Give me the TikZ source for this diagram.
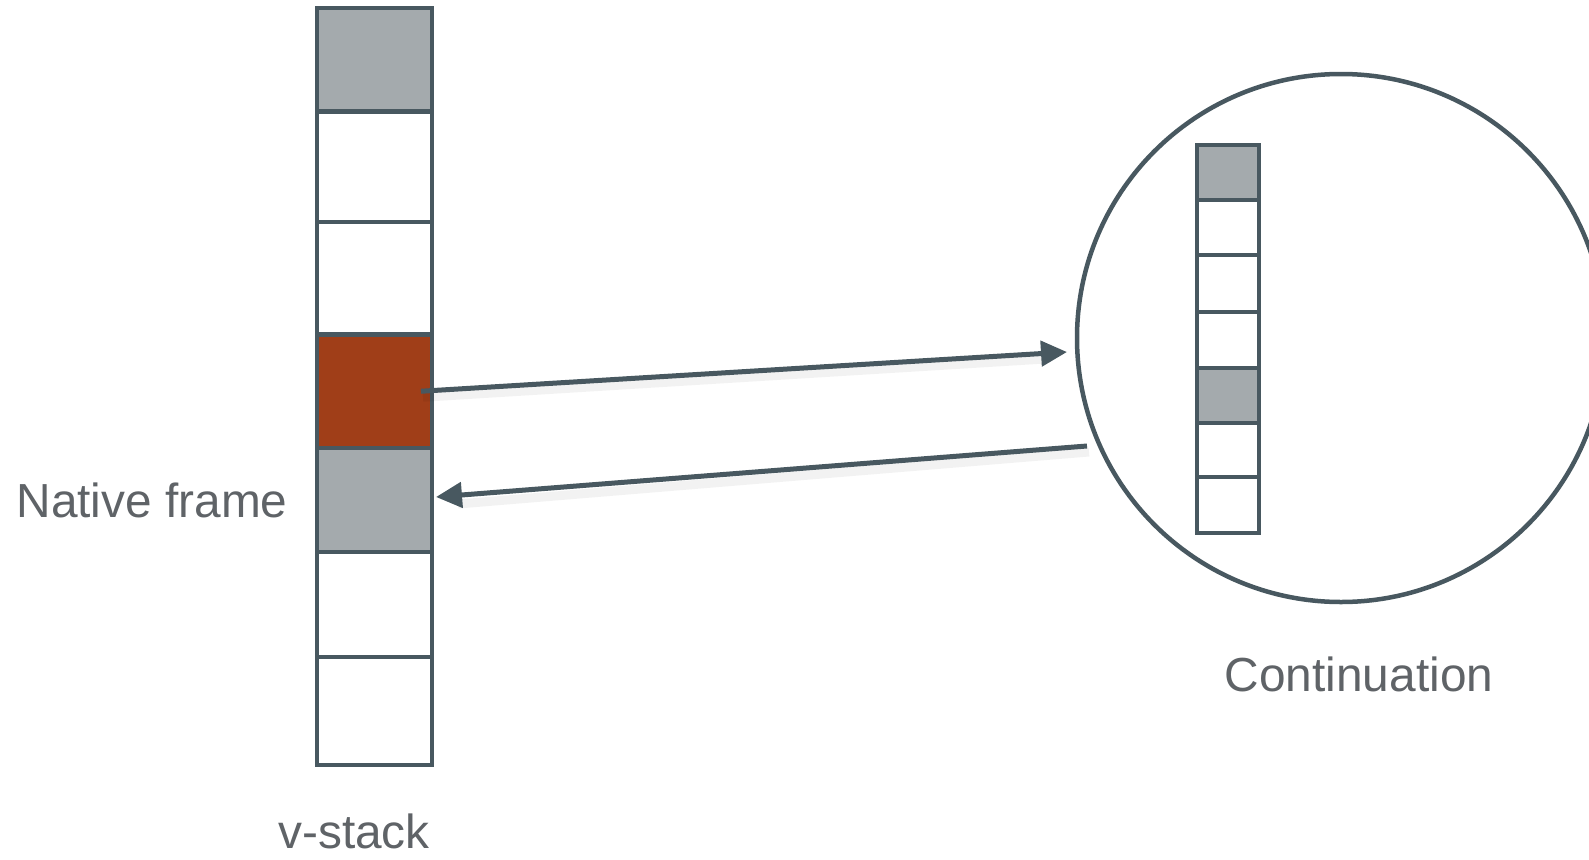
\documentclass[tikz,border=0pt]{standalone}
\usepackage{fontspec}
\setmainfont{Liberation Sans}
\usetikzlibrary{arrows.meta,calc}
\definecolor{ink}{RGB}{72,88,96}
\definecolor{slot}{RGB}{164,170,173}
\definecolor{rust}{RGB}{160,62,24}
\definecolor{txtgray}{RGB}{95,99,103}
\tikzset{
  cell/.style={draw=ink, line width=4.5pt, anchor=north west, inner sep=0pt, outer sep=0pt},
  bigcell/.style={cell, minimum width=115pt},
  smallcell/.style={cell, line width=4pt, minimum width=62pt},
  link/.style={draw=ink, line width=5pt, -{Triangle[length=26pt,width=25pt]}},
  linkshadow/.style={draw=black, opacity=0.05, line width=9pt},
  txt/.style={text=txtgray, font=\fontsize{47.8}{57}\selectfont, inner sep=0pt},
  ring/.style={draw=ink, line width=4.5pt, circle, minimum size=528pt, inner sep=0pt}
}
\begin{document}
\begin{tikzpicture}[x=1pt,y=-1pt]
  \path[use as bounding box] (0,0) rectangle (1589,859);
  \clip (0,0) rectangle (1589,859);
  \fill[white] (0,0) rectangle (1589,859);

  % v-stack cells, top to bottom
  \foreach \i/\t/\b/\f in {1/8/111.5/slot, 2/111.5/222/white, 3/222/334.5/white,
                           4/334.5/448/rust, 5/448/552/slot, 6/552/657/white, 7/657/765/white}
    \node[bigcell, fill=\f, minimum height={(\b-\t)*1pt}] (v\i) at (317,\t) {};

  % continuation ring and its small stack
  \node[ring] (cont) at (1341,338) {};
  \foreach \i/\t/\b/\f in {1/145/200/slot, 2/200/255/white, 3/255/312/white, 4/312/368/white,
                           5/368/423/slot, 6/423/477/white, 7/477/533/white}
    \node[smallcell, fill=\f, minimum height={(\b-\t)*1pt}] (c\i) at (1197,\t) {};

  % arrow end points near the ring
  \coordinate (into) at (1067,352);
  \coordinate (outof) at (1087,446);
  \coordinate (redout) at ($(v4.east)+(-11,0)$);
  \coordinate (back) at ($(v5.east)+(4,-3)$);

  % soft shadows under the links
  \path[linkshadow] ($(redout)+(2,6)$) -- ($(into)+(-22,7)$);
  \path[linkshadow] ($(outof)+(2,6)$) -- ($(back)+(22,7)$);

  % links
  \draw[link] (redout) -- (into);
  \draw[link] (outof) -- (back);

  % labels
  \node[txt] (nf) at (152,500) {Native frame};
  \node[txt] (vs) at (354,831) {v-stack};
  \node[txt] (ct) at (1359,674) {Continuation};
\end{tikzpicture}
\end{document}
